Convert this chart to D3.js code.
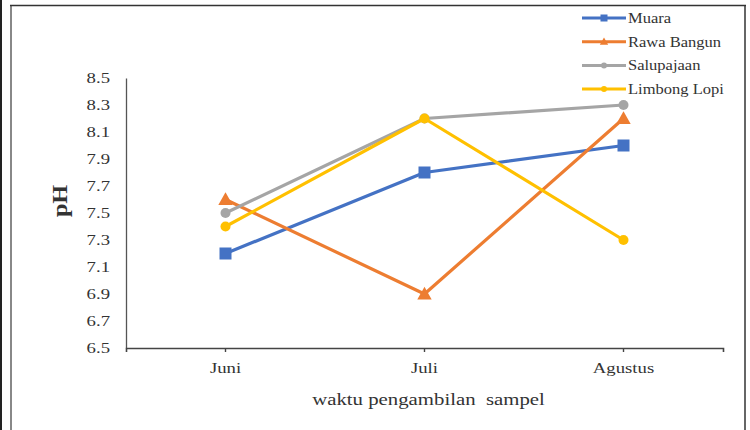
<!DOCTYPE html>
<html>
<head>
<meta charset="utf-8">
<script src="https://cdn.jsdelivr.net/npm/d3@7"></script>
<style>
  html, body { margin: 0; padding: 0; background: #fff; }
  svg { display: block; }
  text { font-family: "Liberation Serif", "Times New Roman", serif; fill: #333; }
</style>
</head>
<body>
<svg id="chart" width="750" height="430"></svg>
<script>
// pH measurements per sampling month
const months = ["Juni", "Juli", "Agustus"];
const muara = [7.2, 7.8, 8.0];
const rawaBangun = [7.6, 6.9, 8.2];
const salupajaan = [7.5, 8.2, 8.3];
const limbongLopi = [7.4, 8.2, 7.3];
const yTicks = [6.5, 6.7, 6.9, 7.1, 7.3, 7.5, 7.7, 7.9, 8.1, 8.3, 8.5];

const series = [
  { name: "Muara", values: muara, color: "#4472C4", marker: "square" },
  { name: "Rawa Bangun", values: rawaBangun, color: "#ED7D31", marker: "triangle" },
  { name: "Salupajaan", values: salupajaan, color: "#A5A5A5", marker: "circle" },
  { name: "Limbong Lopi", values: limbongLopi, color: "#FFC000", marker: "circle" }
];

const svg = d3.select("#chart");
const stretch = 1.25; // wide serif lettering

// outer frame
svg.append("rect").attr("x", 0).attr("y", 0).attr("width", 2).attr("height", 430).attr("fill", "#222");
svg.append("line").attr("x1", 11).attr("x2", 11).attr("y1", 5).attr("y2", 430)
  .attr("stroke", "#888").attr("stroke-width", 2);
svg.append("line").attr("x1", 10).attr("x2", 746).attr("y1", 5.5).attr("y2", 5.5)
  .attr("stroke", "#333").attr("stroke-width", 1.3);
svg.append("line").attr("x1", 745).attr("x2", 745).attr("y1", 5).attr("y2", 430)
  .attr("stroke", "#333").attr("stroke-width", 1.5);

const plot = { left: 126, right: 723, top: 78, bottom: 348 };

const x = d3.scaleBand().domain(months).range([plot.left, plot.right]);
const y = d3.scaleLinear().domain([6.5, 8.5]).range([plot.bottom, plot.top]);
const cx = m => x(m) + x.bandwidth() / 2;

// y axis
const yAxis = svg.append("g").attr("transform", `translate(${plot.left},0)`)
  .call(d3.axisLeft(y).tickValues(yTicks).tickSize(0).tickPadding(16).tickFormat(d3.format(".1f")));
yAxis.select(".domain").attr("stroke", "#555").attr("stroke-width", 1.3);
yAxis.selectAll(".tick text").each(function () {
  const t = d3.select(this);
  const xx = +t.attr("x");
  t.style("font-size", "15px").attr("fill", "#333")
    .attr("x", xx / stretch).attr("transform", `scale(${stretch},1)`);
});

// x axis
const xAxis = svg.append("g").attr("transform", `translate(0,${plot.bottom})`)
  .call(d3.axisBottom(x).tickSize(4).tickSizeOuter(4).tickPadding(10));
xAxis.select(".domain").attr("stroke", "#444").attr("stroke-width", 1.6);
xAxis.selectAll(".tick line").attr("stroke", "#444").attr("stroke-width", 1.4);
xAxis.selectAll(".tick text").style("font-size", "15px").attr("fill", "#333")
  .attr("transform", `scale(${stretch},1)`);

// axis titles
svg.append("text")
  .attr("transform", `translate(${(plot.left + plot.right) / 2 + 4},405) scale(1.3,1)`)
  .attr("text-anchor", "middle").style("font-size", "16px").style("white-space", "pre")
  .attr("fill", "#333")
  .text("waktu pengambilan  sampel");
svg.append("text")
  .attr("transform", "translate(67,201) rotate(-90) scale(1.1,1)")
  .attr("text-anchor", "middle").style("font-size", "22px").style("font-weight", "bold")
  .attr("fill", "#222").text("pH");

// marker drawing
function drawMarker(g, type, px, py, size, color) {
  if (type === "square") {
    g.append("rect").attr("x", px - size / 2).attr("y", py - size / 2)
      .attr("width", size).attr("height", size).attr("fill", color);
  } else if (type === "triangle") {
    const h = size;
    g.append("path")
      .attr("d", `M${px},${py - h * 0.6}L${px + h * 0.6},${py + h * 0.45}L${px - h * 0.6},${py + h * 0.45}Z`)
      .attr("fill", color);
  } else {
    g.append("circle").attr("cx", px).attr("cy", py).attr("r", size / 2).attr("fill", color);
  }
}

// series lines + markers
const line = d3.line().x(d => cx(d.m)).y(d => y(d.v));
series.forEach(s => {
  const pts = months.map((m, i) => ({ m, v: s.values[i] }));
  const g = svg.append("g");
  g.append("path").datum(pts).attr("d", line)
    .attr("fill", "none").attr("stroke", s.color).attr("stroke-width", 3.2)
    .attr("stroke-linejoin", "round");
  pts.forEach(p => {
    const sz = s.marker === "circle" ? 10 : 12;
    drawMarker(g, s.marker, cx(p.m), y(p.v), sz, s.color);
  });
});

// legend
const legend = svg.append("g");
series.forEach((s, i) => {
  const ly = 18 + i * 23.7;
  legend.append("line").attr("x1", 582).attr("x2", 626).attr("y1", ly).attr("y2", ly)
    .attr("stroke", s.color).attr("stroke-width", 3);
  drawMarker(legend, s.marker, 604, ly, s.marker === "circle" ? 6 : 7, s.color);
  legend.append("text")
    .attr("transform", `translate(628,${ly + 5}) scale(1.18,1)`)
    .style("font-size", "14px").attr("fill", "#333").text(s.name);
});
</script>
</body>
</html>
